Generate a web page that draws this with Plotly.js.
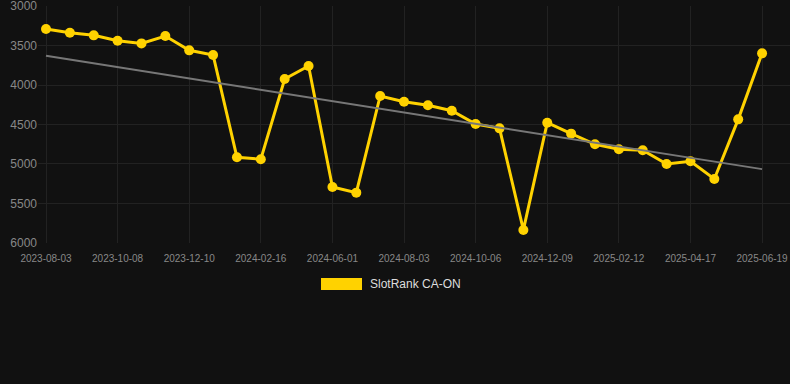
<!DOCTYPE html>
<html>
<head>
<meta charset="utf-8">
<script src="https://cdn.plot.ly/plotly-3.0.1.min.js"></script>
<style>
html,body{margin:0;padding:0;background:#111111;}
#chart{width:790px;height:384px;}
</style>
</head>
<body>
<div id="chart"></div>
<script>
var categories = ["2023-08-03","2023-08-25","2023-09-16","2023-10-08","2023-10-29","2023-11-19","2023-12-10","2024-01-01","2024-01-24","2024-02-16","2024-03-22","2024-04-26","2024-06-01","2024-06-21","2024-07-13","2024-08-03","2024-08-24","2024-09-14","2024-10-06","2024-10-28","2024-11-18","2024-12-09","2024-12-30","2025-01-21","2025-02-12","2025-03-05","2025-03-27","2025-04-17","2025-05-08","2025-05-29","2025-06-19"];
var rankValues = [3290,3338,3371,3439,3473,3380,3561,3620,4915,4940,3924,3759,5291,5363,4139,4211,4257,4325,4494,4549,5835,4477,4616,4751,4814,4827,5000,4966,5190,4435,3599];
var tickLabels = ["2023-08-03","2023-10-08","2023-12-10","2024-02-16","2024-06-01","2024-08-03","2024-10-06","2024-12-09","2025-02-12","2025-04-17","2025-06-19"];
var yTicks = [3000,3500,4000,4500,5000,5500,6000];
var trendValues = [3630, 5065];
var seriesName = "SlotRank CA-ON";

var traces = [
  {
    x: categories, y: rankValues,
    type: "scatter", mode: "lines+markers",
    name: seriesName,
    line: {color: "#FFD200", width: 3},
    marker: {color: "#FFD200", size: 10},
    showlegend: false
  },
  {
    x: [categories[0], categories[categories.length-1]],
    y: trendValues,
    type: "scatter", mode: "lines",
    line: {color: "#777777", width: 2},
    showlegend: false, hoverinfo: "skip"
  }
];

var layout = {
  width: 790, height: 384,
  paper_bgcolor: "#111111", plot_bgcolor: "#111111",
  margin: {l: 38, r: 0, t: 6, b: 141},
  font: {family: "Liberation Sans, Arial, sans-serif", color: "#888888"},
  xaxis: {
    type: "category",
    categoryorder: "array", categoryarray: categories,
    range: [-0.335, 31.17],
    tickmode: "array", tickvals: tickLabels, ticktext: tickLabels,
    tickfont: {size: 10, color: "#888888"},
    gridcolor: "#222222", gridwidth: 1,
    showline: false, zeroline: false,
    ticks: "outside", ticklen: 6, tickcolor: "rgba(0,0,0,0)",
    ticklabeloverflow: "allow"
  },
  yaxis: {
    range: [6000.5, 2999.5],
    tickmode: "array", tickvals: yTicks,
    tickfont: {size: 12, color: "#888888"},
    gridcolor: "#222222", gridwidth: 1,
    zeroline: false, showline: false, ticks: "",
    ticklabeloverflow: "allow"
  },
  shapes: [
    {type: "rect", xref: "paper", yref: "paper",
     x0: (321-38)/752, x1: (362-38)/752,
     y0: -(290-243)/237, y1: -(278-243)/237,
     fillcolor: "#FFD200", line: {width: 0}}
  ],
  annotations: [
    {xref: "paper", yref: "paper", x: (368-38)/752, y: -(284-243)/237,
     text: seriesName, showarrow: false, xanchor: "left", yanchor: "middle",
     font: {size: 12, color: "#dddddd"}}
  ]
};

Plotly.newPlot("chart", traces, layout, {displayModeBar: false, staticPlot: true});
</script>
</body>
</html>
